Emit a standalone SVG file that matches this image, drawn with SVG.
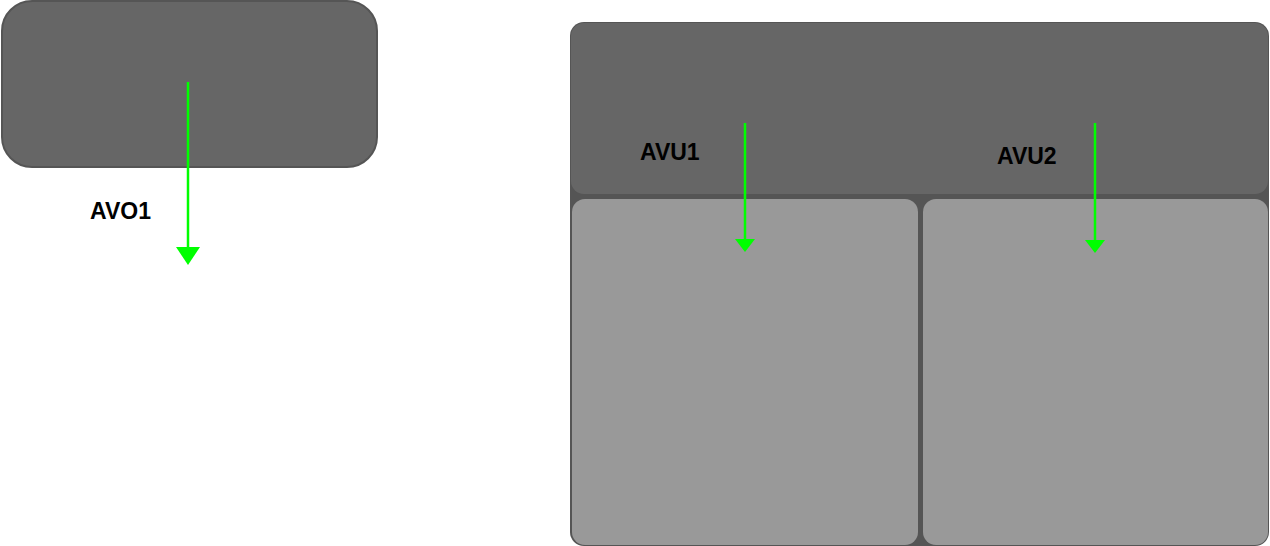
<svg xmlns="http://www.w3.org/2000/svg" width="1270" height="546" viewBox="0 0 1270 546">
<style>
.dark{fill:#666666;stroke:#555555;stroke-width:2}
.lbl{font-family:"Liberation Sans",Arial,sans-serif;font-weight:bold;font-size:23px;fill:#000}
.flow{stroke:#00ff00;stroke-width:2.5;fill:none}
.head{fill:#00ff00}
</style>
<rect x="0" y="0" width="1270" height="546" fill="#ffffff"/>
<g id="node-left">
<rect class="dark" x="2" y="1" width="375" height="166" rx="30" ry="30"/>
</g>
<g id="node-container">
<rect x="570" y="22" width="699" height="524" rx="14" ry="14" fill="#555555"/>
<rect x="571" y="23" width="697" height="171" rx="13" ry="13" fill="#666666"/>
</g>
<g id="node-bottom-left">
<rect x="572" y="199" width="346" height="346" rx="13" ry="13" fill="#999999"/>
</g>
<g id="node-bottom-right">
<rect x="923" y="199" width="345" height="346" rx="13" ry="13" fill="#999999"/>
</g>
<g id="connectors">
<line class="flow" x1="188" y1="82" x2="188" y2="248"/>
<polygon class="head" points="176,247 200,247 188,265"/>
<line class="flow" x1="745" y1="123" x2="745" y2="240"/>
<polygon class="head" points="735,239 755,239 745,252"/>
<line class="flow" x1="1095" y1="123" x2="1095" y2="241"/>
<polygon class="head" points="1085,240 1105,240 1095,253"/>
</g>
<g id="labels">
<text class="lbl" x="90" y="219">AVO1</text>
<text class="lbl" x="640" y="160">AVU1</text>
<text class="lbl" x="997" y="164">AVU2</text>
</g>
</svg>
